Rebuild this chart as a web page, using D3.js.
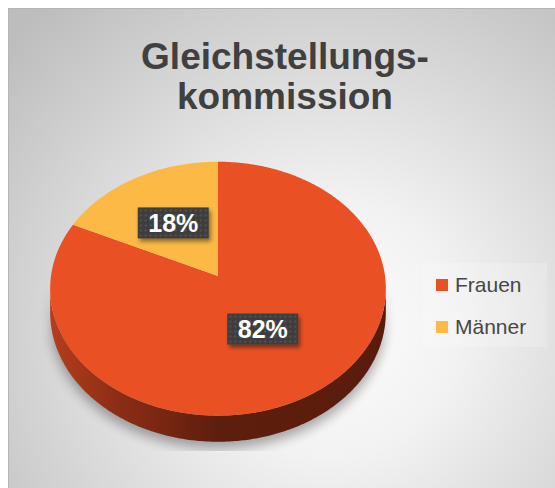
<!DOCTYPE html>
<html lang="de">
<head>
<meta charset="utf-8">
<title>Gleichstellungskommission</title>
<script src="https://d3js.org/d3.v7.min.js"></script>
<style>
  body { margin: 0; background: #fff; }
  svg { display: block; }
</style>
</head>
<body>
<script>
var categories = ["Frauen", "Männer"];
var values = [82, 18];
var colors = ["#e95125", "#fdb946"];
var titleLines = ["Gleichstellungs-", "kommission"];

var w = 555, h = 488;
// projected pie: ellipse with a little perspective
var cx = 218, cy = 276, rx = 167, ry = 125.7, depth = 23.5, persp = 0.1;

var svg = d3.select("body").append("svg")
    .attr("width", w)
    .attr("height", h);

var defs = svg.append("defs");

var bg = defs.append("radialGradient")
    .attr("id", "bg")
    .attr("gradientUnits", "userSpaceOnUse")
    .attr("cx", 330).attr("cy", 330).attr("r", 430);
bg.append("stop").attr("offset", 0).attr("stop-color", "#fdfdfd");
bg.append("stop").attr("offset", 0.3).attr("stop-color", "#f2f2f2");
bg.append("stop").attr("offset", 1).attr("stop-color", "#bdbdbd");

var side = defs.append("linearGradient")
    .attr("id", "side")
    .attr("gradientUnits", "userSpaceOnUse")
    .attr("x1", cx - rx).attr("x2", cx + rx).attr("y1", 0).attr("y2", 0);
side.append("stop").attr("offset", 0).attr("stop-color", "#b53d1c");
side.append("stop").attr("offset", 0.2).attr("stop-color", "#8c2d15");
side.append("stop").attr("offset", 0.5).attr("stop-color", "#5e1e0d");
side.append("stop").attr("offset", 1).attr("stop-color", "#591c0c");

var blur = defs.append("filter").attr("id", "blur")
    .attr("x", "-20%").attr("y", "-20%").attr("width", "140%").attr("height", "140%");
blur.append("feGaussianBlur").attr("stdDeviation", 6);

var drop = defs.append("filter").attr("id", "drop")
    .attr("x", "-20%").attr("y", "-30%").attr("width", "150%").attr("height", "170%");
drop.append("feDropShadow")
    .attr("dx", 2).attr("dy", 3).attr("stdDeviation", 2)
    .attr("flood-color", "#000").attr("flood-opacity", 0.45);

var dots = defs.append("pattern").attr("id", "dots")
    .attr("patternUnits", "userSpaceOnUse")
    .attr("width", 5).attr("height", 5);
dots.append("rect").attr("width", 5).attr("height", 5).attr("fill", "#3e3e3e");
dots.append("circle").attr("cx", 2.5).attr("cy", 2.5).attr("r", 0.9).attr("fill", "#595959");

// shadow fades in from the top, cut off at the bottom
var fade = defs.append("linearGradient")
    .attr("id", "fade")
    .attr("gradientUnits", "userSpaceOnUse")
    .attr("x1", 0).attr("x2", 0).attr("y1", 285).attr("y2", 345);
fade.append("stop").attr("offset", 0).attr("stop-color", "#fff").attr("stop-opacity", 0);
fade.append("stop").attr("offset", 1).attr("stop-color", "#fff").attr("stop-opacity", 1);

defs.append("mask").attr("id", "shadowMask")
    .attr("maskUnits", "userSpaceOnUse")
    .attr("x", 0).attr("y", 0).attr("width", w).attr("height", h)
    .append("rect")
    .attr("x", 0).attr("y", 0).attr("width", w).attr("height", 451)
    .attr("fill", "url(#fade)");

// background
svg.append("rect")
    .attr("x", 8.5).attr("y", 8.5)
    .attr("width", 560).attr("height", 490)
    .attr("fill", "url(#bg)")
    .attr("stroke", "#b5b5b5");

// title
svg.append("text")
    .attr("x", 285)
    .attr("y", 69)
    .attr("text-anchor", "middle")
    .attr("font-family", "'Liberation Sans', Arial, sans-serif")
    .attr("font-weight", "bold")
    .attr("font-size", 37)
    .attr("fill", "#404040")
    .selectAll("tspan")
    .data(titleLines)
    .enter()
    .append("tspan")
    .attr("x", 285)
    .attr("dy", function(d, i) { return i ? 40 : 0; })
    .text(function(d) { return d; });

function proj(a, r, d) {
    var s = 1 / (1 + persp * Math.cos(a));
    return [cx + rx * r * Math.sin(a) * s, cy - ry * r * Math.cos(a) * s + (d || 0) * s];
}

function arcPts(a0, a1, r, d) {
    var n = Math.max(2, Math.ceil(Math.abs(a1 - a0) / 0.01));
    return d3.range(n + 1).map(function(i) {
        return proj(a0 + (a1 - a0) * i / n, r, d);
    });
}

var line = d3.line();
var pie = d3.pie().sort(null).value(function(d) { return d; });
var arcs = pie(values);
var total = d3.sum(values);

// limbs of the projected ellipse
var limb0 = Math.acos(-persp), limb1 = 2 * Math.PI - limb0;

// soft shadow under the pie
var silhouette = arcPts(limb0, limb1, 1, depth).concat(arcPts(limb1, limb0 + 2 * Math.PI, 1, 0));
svg.append("g")
    .attr("mask", "url(#shadowMask)")
    .append("path")
    .attr("d", line(silhouette) + "Z")
    .attr("transform", "translate(0,7)")
    .attr("fill", "#000")
    .attr("opacity", 0.32)
    .attr("filter", "url(#blur)");

// side walls (front half only)
svg.append("g").selectAll("path")
    .data(arcs.filter(function(d) { return d.endAngle > limb0 && d.startAngle < limb1; }))
    .enter()
    .append("path")
    .attr("d", function(d) {
        var a0 = Math.max(d.startAngle, limb0), a1 = Math.min(d.endAngle, limb1);
        var pts = arcPts(a0, a1, 1, 0).concat(arcPts(a1, a0, 1, depth));
        return line(pts) + "Z";
    })
    .attr("fill", "url(#side)");

// top faces
svg.append("g").selectAll("path")
    .data(arcs)
    .enter()
    .append("path")
    .attr("d", function(d) {
        return line([[cx, cy]].concat(arcPts(d.startAngle, d.endAngle, 1, 0))) + "Z";
    })
    .attr("fill", function(d, i) { return colors[i]; });

// data labels
var labels = svg.append("g").selectAll("g")
    .data(arcs)
    .enter()
    .append("g")
    .attr("transform", function(d) {
        var m = (d.startAngle + d.endAngle) / 2;
        return "translate(" + (cx + rx * 0.5 * Math.sin(m)) + "," + (cy - ry * 0.5 * Math.cos(m)) + ")";
    });

labels.append("rect")
    .attr("x", -35.5).attr("y", -15.5)
    .attr("width", 71).attr("height", 31)
    .attr("fill", "url(#dots)")
    .attr("filter", "url(#drop)");

labels.append("text")
    .attr("text-anchor", "middle")
    .attr("y", 9)
    .attr("font-family", "'Liberation Sans', Arial, sans-serif")
    .attr("font-weight", "bold")
    .attr("font-size", 25)
    .attr("fill", "#fff")
    .text(function(d) { return Math.round(d.value / total * 100) + "%"; });

// legend
svg.append("rect")
    .attr("x", 423).attr("y", 263)
    .attr("width", 124).attr("height", 84)
    .attr("fill", "#fff").attr("opacity", 0.2);

var legend = svg.append("g").selectAll("g")
    .data(categories)
    .enter()
    .append("g")
    .attr("transform", function(d, i) { return "translate(436," + (279 + i * 42) + ")"; });

legend.append("rect")
    .attr("width", 12).attr("height", 12)
    .attr("fill", function(d, i) { return colors[i]; });

legend.append("text")
    .attr("x", 19)
    .attr("y", 13)
    .attr("font-family", "'Liberation Sans', Arial, sans-serif")
    .attr("font-size", 21)
    .attr("fill", "#474747")
    .text(function(d) { return d; });
</script>
</body>
</html>
